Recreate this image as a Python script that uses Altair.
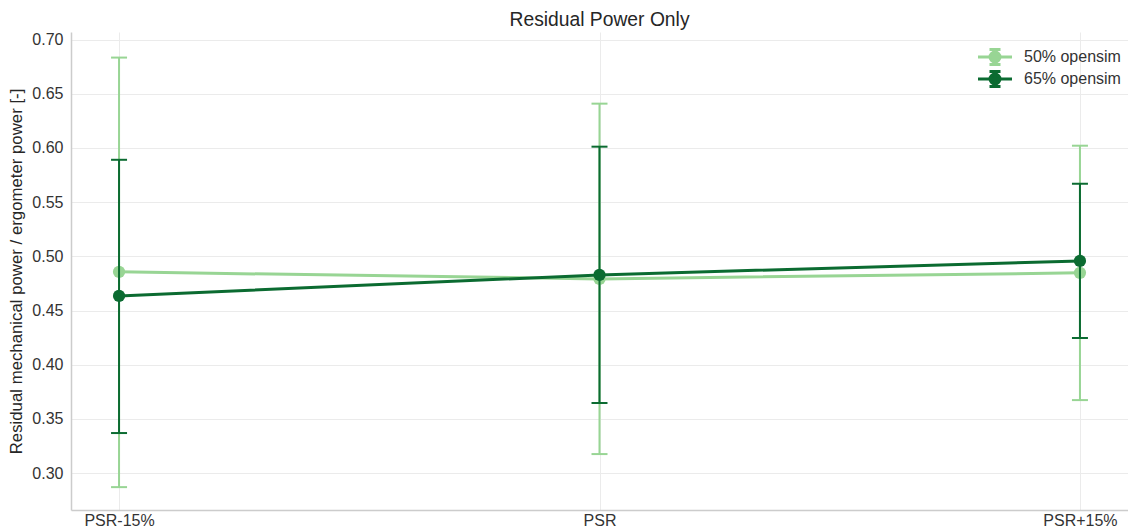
import altair as alt
import pandas as pd

categories = ["PSR-15%", "PSR", "PSR+15%"]
series_names = ["50% opensim", "65% opensim"]
series_colors = ["#98d594", "#0b6b31"]

mean_50 = [0.4857, 0.4792, 0.4848]
lo_50 = [0.2871, 0.3176, 0.3674]
hi_50 = [0.6834, 0.6409, 0.6021]

mean_65 = [0.4635, 0.4829, 0.4958]
lo_65 = [0.3370, 0.3647, 0.4247]
hi_65 = [0.5891, 0.6012, 0.5670]

y_ticks = [0.30, 0.35, 0.40, 0.45, 0.50, 0.55, 0.60, 0.65, 0.70]

rows = []
for name, m, lo, hi in [(series_names[0], mean_50, lo_50, hi_50),
                        (series_names[1], mean_65, lo_65, hi_65)]:
    for c, mv, l, h in zip(categories, m, lo, hi):
        rows.append({"cat": c, "series": name, "mean": mv, "lo": l, "hi": h})
df = pd.DataFrame(rows)

x_enc = alt.X("cat:N", sort=categories,
              scale=alt.Scale(type="point", padding=0.1),
              axis=alt.Axis(title=None, labelAngle=0, labelPadding=2))
y_scale = alt.Scale(domain=[0.266, 0.707], nice=False, zero=False)

legend_path = ("M-3.4,0L3.4,0"
               "M-1,0A1,1 0 1,0 1,0A1,1 0 1,0 -1,0Z"
               "M0,-1.5L0,1.5M-1.1,-1.5L1.1,-1.5M-1.1,1.5L1.1,1.5")

legend = alt.Legend(title=None, orient="none",
                    legendX=916, legendY=17,
                    symbolType=legend_path,
                    symbolSize=100,
                    symbolStrokeWidth=3,
                    symbolOpacity=1,
                    labelFontSize=16,
                    labelColor="#333333",
                    labelOffset=21,
                    rowPadding=-7)
color = alt.Color("series:N",
                  scale=alt.Scale(domain=series_names, range=series_colors),
                  legend=legend)

layers = []
for name in series_names:
    base = alt.Chart(df).transform_filter(alt.datum.series == name)
    rule = base.mark_rule(strokeWidth=2, opacity=1).encode(
        x=x_enc,
        y=alt.Y("lo:Q", scale=y_scale,
                axis=alt.Axis(values=y_ticks, format=".2f",
                              title="Residual mechanical power / ergometer power [-]")),
        y2="hi:Q",
        color=color)
    cap_lo = base.mark_tick(orient="horizontal", size=16, thickness=2, opacity=1).encode(
        x=x_enc, y=alt.Y("lo:Q", scale=y_scale), color=color)
    cap_hi = base.mark_tick(orient="horizontal", size=16, thickness=2, opacity=1).encode(
        x=x_enc, y=alt.Y("hi:Q", scale=y_scale), color=color)
    line = base.mark_line(strokeWidth=3, opacity=1).encode(
        x=x_enc, y=alt.Y("mean:Q", scale=y_scale), color=color)
    pts = base.mark_point(filled=True, size=150, opacity=1).encode(
        x=x_enc, y=alt.Y("mean:Q", scale=y_scale), color=color)
    layers += [rule, cap_lo, cap_hi, line, pts]

chart = alt.layer(*layers).properties(
    width=1057, height=478,
    title=alt.Title("Residual Power Only", fontSize=19.3, fontWeight="normal",
                    color="#262626", offset=1),
    autosize=alt.AutoSizeParams(type="none"),
    padding={"left": 63, "top": 24, "right": 0, "bottom": 19},
).configure(
    font="Liberation Sans",
).configure_view(
    stroke="transparent",
).configure_axis(
    grid=True, gridColor="#ebebeb", gridWidth=1,
    domainColor="#cccccc", domainWidth=1.5,
    ticks=False,
    labelFontSize=16, labelColor="#333333",
    titleFontSize=16.8, titleColor="#262626", titleFontWeight="normal",
).configure_axisY(
    labelPadding=8, titlePadding=6,
)

chart.save("out.html", embed_options={"renderer": "svg", "actions": False})
